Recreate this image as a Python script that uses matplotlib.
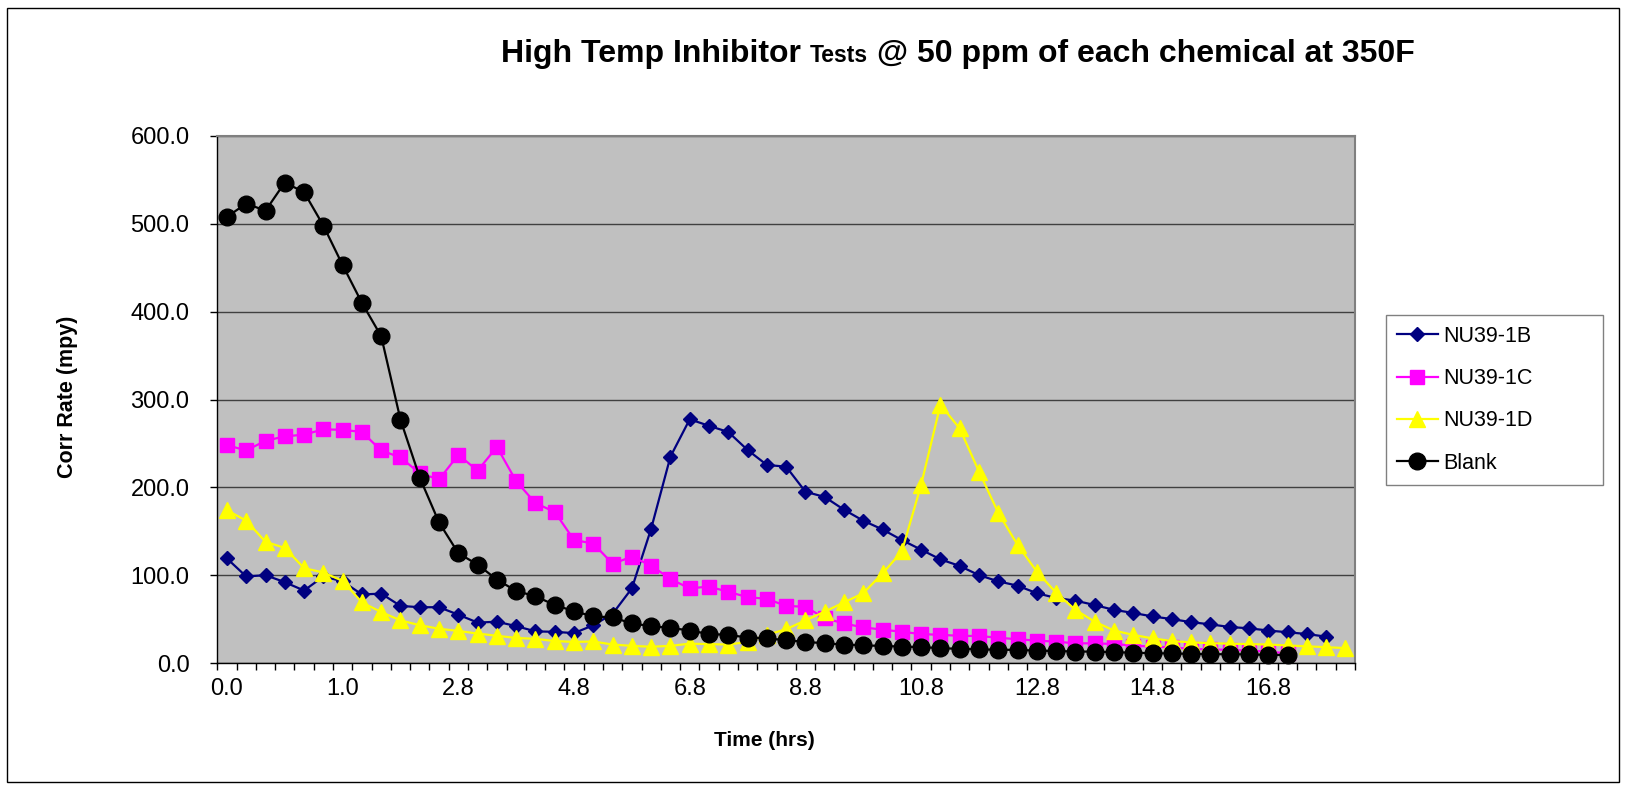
import numpy as np
import matplotlib
matplotlib.use("Agg")
import matplotlib.pyplot as plt
from matplotlib.patches import Rectangle
from matplotlib.offsetbox import TextArea, HPacker, AnchoredOffsetbox

plt.rcParams["font.family"] = ["Liberation Sans", "DejaVu Sans"]

# ------------------------------------------------------------------ data

# category axis (hrs); only every 6th label is shown
time_labels = [
    "0.0", "0.2", "0.3", "0.5", "0.7", "0.8", "1.0",
    "1.3", "1.6", "1.9", "2.2", "2.5", "2.8",
    "3.1", "3.5", "3.8", "4.1", "4.5", "4.8", "5.1", "5.5", "5.8", "6.1",
    "6.5", "6.8", "7.1", "7.5", "7.8", "8.1", "8.5", "8.8", "9.1", "9.5",
    "9.8", "10.1", "10.5", "10.8", "11.1", "11.5", "11.8", "12.1", "12.5",
    "12.8", "13.1", "13.5", "13.8", "14.1", "14.5", "14.8", "15.1", "15.5",
    "15.8", "16.1", "16.5", "16.8", "17.1", "17.5", "17.8", "18.1",
]

nu39_1b = [
    119, 98.5, 100, 92, 82.5, 98.5, 93, 78, 79, 65,
    63.5, 63.5, 55, 46, 47, 42, 36, 35.5, 34, 43,
    56, 85, 153, 235, 277.5, 270, 263, 242.5, 225.5, 223.5,
    195, 189, 174.5, 162, 152, 140, 129, 118, 110.5, 100,
    93, 88, 79.5, 74, 71, 66, 60.5, 57, 53, 50,
    46.5, 44, 41, 39.5, 37, 35, 33, 30,
]
nu39_1c = [
    248, 242, 253, 258, 260, 266, 265.5, 263, 242, 234,
    216, 209, 237, 219, 246, 207, 182, 172, 140, 136,
    113, 121, 111, 95.5, 85, 87, 81, 75, 73, 65,
    64, 51, 45, 40.5, 38, 35.5, 33, 32, 31, 30.7,
    28.8, 27, 25.5, 24.3, 22.4, 22.4, 21.6, 19.8, 18.6, 17.9,
    16, 15.5, 14.9, 14, 13, 11,
]
nu39_1d = [
    174, 162, 138, 131, 108, 103, 93.5, 69, 58, 48.5,
    43, 39, 36.5, 33.5, 31, 28.5, 27.5, 25, 24, 24.5,
    21, 19.5, 18.5, 19.5, 22, 21.5, 21, 24, 32, 38.5,
    48.5, 58.5, 69, 79.5, 102, 127, 203, 294, 267, 218,
    171, 134.5, 104, 80, 60.5, 47, 37, 32, 28, 25,
    23.5, 22.5, 22, 21.5, 21, 20, 19, 18, 17,
]
blank = [
    508, 523, 515, 547, 536, 498, 453, 410, 372, 277,
    211, 160, 125, 112, 95, 82, 76, 66, 59, 53,
    52, 45, 42, 40, 37, 33, 32, 29, 28, 26,
    24, 22.5, 21, 20, 19.5, 18.6, 18, 17, 16, 15.6,
    15, 15, 14, 13.7, 13, 13, 12.2, 11.8, 11, 11,
    10.3, 10, 10, 9.8, 9.2, 9.1,
]

series = [
    ("NU39-1B", nu39_1b, "#000080", "D", 7.2),
    ("NU39-1C", nu39_1c, "#ff00ff", "s", 10.5),
    ("NU39-1D", nu39_1d, "#ffff00", "^", 11.0),
    ("Blank", blank, "#000000", "o", 12.0),
]

# ----------------------------------------------------------------- figure

W, H = 1627, 791
fig = plt.figure(figsize=(W / 100, H / 100), dpi=100)
ax = fig.add_axes([217.3 / W, 1 - 663 / H, (1355 - 217.3) / W, (663 - 136) / H])
ax.set_facecolor("#c0c0c0")

for name, vals, color, marker, ms in series:
    ax.plot(np.arange(len(vals)), vals, color=color, lw=1.6, marker=marker,
            ms=ms, mfc=color, mec=color, label=name, clip_on=False)

n = len(time_labels)
ax.set_xlim(-0.5, n - 0.5)
ax.set_ylim(0, 600)

ax.set_yticks(np.arange(0, 601, 100))
ax.set_yticklabels([f"{v:.1f}" for v in range(0, 601, 100)])
ax.yaxis.grid(True, color="#404040", lw=1.0)
ax.set_axisbelow(True)

ax.set_xticks(np.arange(-0.5, n, 1))
ax.set_xticklabels([])
lab_idx = list(range(0, n, 6))
ax.set_xticks(lab_idx, labels=[time_labels[i] for i in lab_idx], minor=True)
ax.tick_params(axis="x", which="major", length=5, width=1, direction="out")
ax.tick_params(axis="x", which="minor", length=0, pad=10.5, labelsize=17)
ax.tick_params(axis="y", length=5, width=1, pad=15, labelsize=17)

for s in ("left", "bottom"):
    ax.spines[s].set_color("black")
    ax.spines[s].set_linewidth(1.0)
for s in ("top", "right"):
    ax.spines[s].set_color("#808080")
    ax.spines[s].set_linewidth(1.5)

fig.text(68 / W, 1 - 397 / H, "Corr Rate (mpy)", rotation=90, ha="center",
         va="center", fontsize=15.5, fontweight="bold")
fig.text(764 / W, 1 - 741 / H, "Time (hrs)", ha="center", va="center",
         fontsize=15, fontweight="bold")

# title with the smaller "Tests"
big = dict(fontsize=23, fontweight="bold")
small = dict(fontsize=16.5, fontweight="bold")
title = HPacker(children=[TextArea("High Temp Inhibitor ", textprops=big),
                          TextArea("Tests", textprops=small),
                          TextArea(" @ 50 ppm of each chemical at 350F",
                                   textprops=big)],
                align="baseline", pad=0, sep=0)
fig.add_artist(AnchoredOffsetbox(loc="center", child=title, pad=0,
                                 borderpad=0, frameon=False,
                                 bbox_to_anchor=(958 / W, 1 - 54 / H),
                                 bbox_transform=fig.transFigure))

leg = ax.legend(loc="upper left",
                bbox_to_anchor=(1386 / W, 1 - 323 / H, (1603 - 1386) / W, 0.01),
                bbox_transform=fig.transFigure, mode="expand",
                fontsize=15.5, frameon=True, fancybox=False,
                edgecolor="#808080", framealpha=1, handlelength=1.9,
                handletextpad=0.25, labelspacing=0.99, borderpad=0.5,
                borderaxespad=0)
leg.get_frame().set_linewidth(1.0)

fig.add_artist(Rectangle((7 / W, 1 - 782 / H), (1619 - 7) / W, (782 - 8) / H,
                         transform=fig.transFigure, fill=False,
                         edgecolor="black", lw=1.0))

fig.savefig("out.png", dpi=100)
